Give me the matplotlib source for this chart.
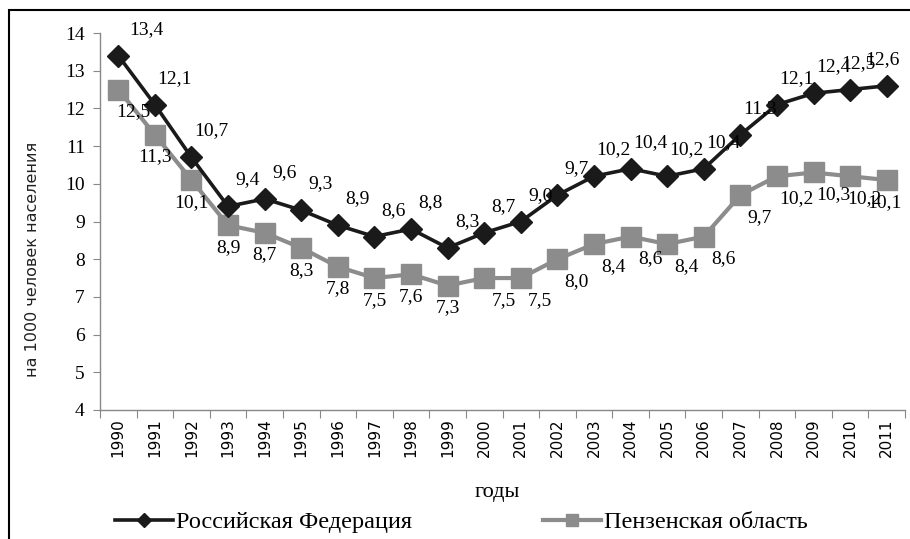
import matplotlib
matplotlib.use("Agg")
import matplotlib.pyplot as plt
from matplotlib.lines import Line2D
from matplotlib.patches import Rectangle

years = [str(y) for y in range(1990, 2012)]
russia = [13.4, 12.1, 10.7, 9.4, 9.6, 9.3, 8.9, 8.6, 8.8, 8.3, 8.7, 9.0,
          9.7, 10.2, 10.4, 10.2, 10.4, 11.3, 12.1, 12.4, 12.5, 12.6]
penza = [12.5, 11.3, 10.1, 8.9, 8.7, 8.3, 7.8, 7.5, 7.6, 7.3, 7.5, 7.5,
         8.0, 8.4, 8.6, 8.4, 8.6, 9.7, 10.2, 10.3, 10.2, 10.1]
name_ru = "Российская Федерация"
name_pz = "Пензенская область"
ylabel = "на 1000 человек населения"
xlabel = "годы"

SERIF = ["Liberation Serif", "DejaVu Serif"]
SANS = ["DejaVu Sans"]
BLACK = "#1a1a1a"
GRAY = "#8c8c8c"

fig = plt.figure(figsize=(9.10, 5.39), dpi=100)
ax = fig.add_axes([100/910, 1-410/539, 805/910, 377/539])

x = list(range(len(years)))
ax.plot(x, penza, color=GRAY, lw=3.0, marker="s", ms=14, mec=GRAY, mfc=GRAY, zorder=3)
ax.plot(x, russia, color=BLACK, lw=2.6, marker="D", ms=11, mec=BLACK, mfc=BLACK, zorder=4)

def fmt(v):
    return f"{v:.1f}".replace(".", ",")

# label offsets (points) for the data labels
ru_dx = {0: 20, 20: 6, 21: -3}
pz_dx = {0: 11, 20: 10, 21: -2}

for i, v in enumerate(russia):
    ax.annotate(fmt(v), (i, v), xytext=(ru_dx.get(i, 14), 19), textcoords="offset points",
                ha="center", va="center", fontsize=14, family=SERIF, color="black", zorder=5)
for i, v in enumerate(penza):
    dx = pz_dx.get(i, 0 if 1 <= i <= 9 else 14)
    ax.annotate(fmt(v), (i, v), xytext=(dx, -16), textcoords="offset points",
                ha="center", va="center", fontsize=14, family=SERIF, color="black", zorder=5)

ax.set_xlim(-0.5, len(years) - 0.5)
ax.set_ylim(4, 14)
ax.set_yticks(range(4, 15))
ax.set_yticklabels([str(v) for v in range(4, 15)], family=SERIF, fontsize=14)
ax.set_xticks([i + 0.5 for i in range(-1, len(years))], minor=False)
ax.set_xticklabels([""] * (len(years) + 1))
ax.set_xticks(x, minor=True)
ax.set_xticklabels(years, minor=True, rotation=90, family=SANS, fontsize=11)
ax.tick_params(axis="x", which="major", length=6, direction="out", color="#888888")
ax.tick_params(axis="x", which="minor", length=0, pad=6)
ax.tick_params(axis="y", length=5, direction="out", color="#888888", pad=6)

for s in ["top", "right"]:
    ax.spines[s].set_visible(False)
for s in ["left", "bottom"]:
    ax.spines[s].set_color("#888888")
    ax.spines[s].set_linewidth(1.0)

ax.set_ylabel(ylabel, family=SANS, fontsize=11.5, color="#222222")
ax.yaxis.set_label_coords(-0.074, 0.40)
fig.text(497/910, 1-492/539, xlabel, ha="center", va="center", family=SERIF, fontsize=16)

handles = [Line2D([], [], color=BLACK, lw=2.6, marker="D", ms=7),
           Line2D([], [], color=GRAY, lw=3.0, marker="s", ms=9)]
leg = fig.legend(handles, [name_ru, name_pz], loc="center", bbox_to_anchor=(0.507, 1-522/539),
                 ncol=2, frameon=False, prop={"family": SERIF, "size": 17.5},
                 handlelength=2.4, handletextpad=0.1, columnspacing=5.4)

fig.patches.append(Rectangle((9/910, -0.1), 1.0, 1.1 - 10/539, transform=fig.transFigure,
                             fill=False, edgecolor="black", lw=1.5))

fig.savefig("out.png", dpi=100)
